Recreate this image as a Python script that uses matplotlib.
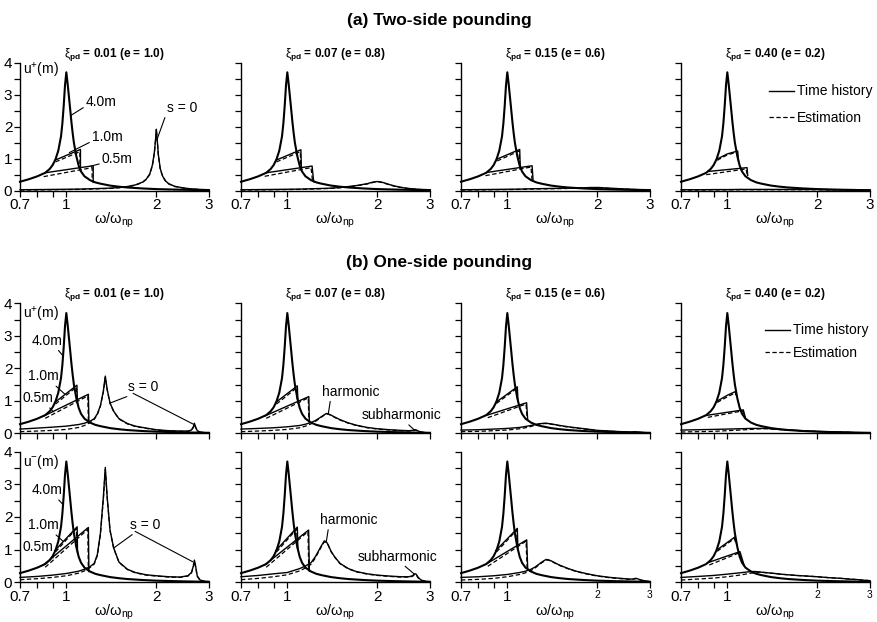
import matplotlib
matplotlib.use("Agg")
import matplotlib.pyplot as plt
from matplotlib.lines import Line2D
from matplotlib.ticker import FixedLocator, FixedFormatter, NullFormatter

plt.rcParams["font.family"] = ["Liberation Sans", "DejaVu Sans"]
plt.rcParams["mathtext.fontset"] = "custom"
plt.rcParams["mathtext.rm"] = "Liberation Sans"
plt.rcParams["mathtext.it"] = "Liberation Sans"
plt.rcParams["mathtext.bf"] = "Liberation Sans:bold"

# ---------------------------------------------------------------- data
damping = ["0.01", "0.07", "0.15", "0.40"]
restitution = ["1.0", "0.8", "0.6", "0.2"]

x_ticks = [0.7, 1, 2, 3]
x_tick_labels = ["0.7", "1", "2", "3"]
x_minor = [0.8, 0.9]
y_ticks = [0, 1, 2, 3, 4]
y_minor = [0.5, 1.5, 2.5, 3.5]

# response without pounding (gap s = 4.0 m)
w_free = [0.70, 0.75, 0.80, 0.85, 0.88, 0.90, 0.92, 0.94, 0.96, 0.97, 0.98, 0.99,
          1.00, 1.01, 1.02, 1.03, 1.04, 1.05, 1.06, 1.08, 1.10, 1.12, 1.15, 1.20,
          1.25, 1.30, 1.40, 1.50, 1.60, 1.80, 2.00, 2.30, 2.60, 3.00]
u_free = [0.28, 0.36, 0.45, 0.56, 0.68, 0.80, 0.98, 1.25, 1.70, 2.10, 2.65, 3.30,
          3.70, 3.35, 2.95, 2.55, 2.15, 1.80, 1.50, 1.08, 0.78, 0.60, 0.45, 0.33,
          0.26, 0.22, 0.16, 0.125, 0.10, 0.07, 0.05, 0.035, 0.025, 0.015]

# ---- (a) two-side pounding, u+
two_s10_th = [([0.915, 1.115, 1.115], [0.95, 1.29, 0.62]),
              ([0.915, 1.11, 1.115], [0.95, 1.28, 0.64]),
              ([0.92, 1.10, 1.105], [0.98, 1.29, 0.70]),
              ([0.92, 1.00, 1.083, 1.09], [0.98, 1.15, 1.24, 0.93])]
two_s10_est = [([0.92, 1.11, 1.11], [0.90, 1.22, 0.66]),
               ([0.92, 1.105, 1.11], [0.90, 1.22, 0.68]),
               ([0.925, 1.095, 1.10], [0.93, 1.24, 0.74]),
               ([0.925, 1.00, 1.075, 1.085], [0.95, 1.12, 1.20, 0.98])]
two_s05_th = [([0.85, 1.23, 1.23], [0.56, 0.78, 0.26]),
              ([0.85, 1.21, 1.225], [0.56, 0.77, 0.28]),
              ([0.855, 1.21, 1.22], [0.57, 0.78, 0.30]),
              ([0.86, 1.164, 1.17], [0.60, 0.72, 0.48])]
two_s05_est = [([0.84, 1.22, 1.22], [0.44, 0.72, 0.27]),
               ([0.84, 1.20, 1.215], [0.45, 0.72, 0.29]),
               ([0.845, 1.20, 1.21], [0.47, 0.74, 0.31]),
               ([0.85, 1.155, 1.165], [0.50, 0.68, 0.50])]
two_s0_w = [0.70, 0.80, 0.90, 1.00, 1.10, 1.20, 1.30, 1.40, 1.50, 1.60, 1.70, 1.80,
            1.85, 1.90, 1.94, 1.97, 1.99, 2.00, 2.01, 2.03, 2.06, 2.10, 2.15, 2.20,
            2.30, 2.45, 2.60, 2.80, 3.00]
two_s0_th = [
    [0.03, 0.035, 0.04, 0.045, 0.05, 0.06, 0.07, 0.08, 0.10, 0.13, 0.18, 0.27,
     0.36, 0.52, 0.80, 1.20, 1.65, 1.92, 1.70, 1.15, 0.70, 0.45, 0.30, 0.22,
     0.14, 0.09, 0.06, 0.04, 0.03],
    [0.03, 0.035, 0.04, 0.045, 0.05, 0.06, 0.07, 0.08, 0.10, 0.13, 0.16, 0.20,
     0.22, 0.25, 0.27, 0.28, 0.285, 0.285, 0.285, 0.28, 0.27, 0.25, 0.22, 0.19,
     0.14, 0.09, 0.06, 0.04, 0.03],
    [0.03, 0.035, 0.04, 0.045, 0.05, 0.06, 0.065, 0.07, 0.075, 0.08, 0.085, 0.09,
     0.095, 0.10, 0.10, 0.10, 0.10, 0.10, 0.10, 0.10, 0.095, 0.09, 0.085, 0.08,
     0.07, 0.055, 0.045, 0.035, 0.03],
    [0.03, 0.03, 0.035, 0.035, 0.04, 0.04, 0.04, 0.04, 0.04, 0.04, 0.04, 0.04,
     0.04, 0.04, 0.04, 0.04, 0.04, 0.04, 0.04, 0.04, 0.035, 0.035, 0.035, 0.03,
     0.03, 0.025, 0.02, 0.02, 0.015]]
two_s0_est = [
    [0.02, 0.025, 0.03, 0.035, 0.04, 0.05, 0.06, 0.07, 0.09, 0.12, 0.17, 0.26,
     0.35, 0.50, 0.78, 1.18, 1.62, 1.88, 1.68, 1.13, 0.68, 0.44, 0.29, 0.21,
     0.13, 0.085, 0.055, 0.035, 0.025],
    [0.02, 0.025, 0.03, 0.035, 0.04, 0.05, 0.06, 0.07, 0.09, 0.12, 0.15, 0.19,
     0.21, 0.24, 0.26, 0.27, 0.275, 0.28, 0.28, 0.275, 0.26, 0.24, 0.21, 0.18,
     0.13, 0.085, 0.055, 0.035, 0.025],
    [0.02, 0.025, 0.03, 0.035, 0.04, 0.05, 0.055, 0.06, 0.065, 0.07, 0.075, 0.08,
     0.085, 0.09, 0.09, 0.09, 0.09, 0.09, 0.09, 0.09, 0.085, 0.08, 0.075, 0.07,
     0.06, 0.05, 0.04, 0.03, 0.025],
    [0.02, 0.02, 0.025, 0.025, 0.03, 0.03, 0.03, 0.03, 0.03, 0.03, 0.03, 0.03,
     0.03, 0.03, 0.03, 0.03, 0.03, 0.03, 0.03, 0.03, 0.03, 0.03, 0.025, 0.025,
     0.025, 0.02, 0.02, 0.015, 0.01]]

# ---- (b) one-side pounding, u+
one_s10_th = [([0.915, 1.085, 1.09], [0.95, 1.48, 0.92]),
              ([0.915, 1.08, 1.085], [0.95, 1.46, 0.98]),
              ([0.915, 1.08, 1.085], [0.95, 1.43, 1.00]),
              ([0.92, 1.00, 1.061, 1.075], [0.98, 1.17, 1.28, 1.15])]
one_s10_est = [([0.92, 1.08, 1.085], [0.90, 1.42, 0.98]),
               ([0.92, 1.075, 1.08], [0.90, 1.40, 1.04]),
               ([0.92, 1.075, 1.08], [0.92, 1.38, 1.06]),
               ([0.925, 1.00, 1.055, 1.07], [0.95, 1.12, 1.23, 1.18])]
one_s05_th = [([0.84, 1.185, 1.19], [0.53, 1.20, 0.33]),
              ([0.84, 1.18, 1.185], [0.53, 1.13, 0.34]),
              ([0.85, 1.16, 1.17], [0.55, 0.94, 0.40]),
              ([0.85, 1.131, 1.15], [0.55, 0.72, 0.47])]
one_s05_est = [([0.85, 1.18, 1.185], [0.46, 1.15, 0.34]),
               ([0.85, 1.175, 1.18], [0.46, 1.09, 0.35]),
               ([0.86, 1.155, 1.165], [0.48, 0.90, 0.42]),
               ([0.86, 1.125, 1.145], [0.49, 0.69, 0.49])]
one_s0_w = [0.70, 0.80, 0.90, 1.00, 1.10, 1.15, 1.20, 1.24, 1.27, 1.30, 1.33, 1.35,
            1.37, 1.40, 1.44, 1.50, 1.60, 1.70, 1.85, 2.00, 2.20, 2.40, 2.55, 2.62,
            2.66, 2.68, 2.70, 2.74, 2.80, 2.90, 3.00]
one_s0_th = [
    [0.13, 0.16, 0.19, 0.22, 0.27, 0.31, 0.37, 0.45, 0.60, 0.85, 1.30, 1.76,
     1.35, 0.93, 0.68, 0.45, 0.30, 0.22, 0.16, 0.11, 0.08, 0.07, 0.07, 0.10,
     0.20, 0.31, 0.22, 0.08, 0.04, 0.02, 0.01],
    [0.13, 0.15, 0.17, 0.20, 0.24, 0.28, 0.33, 0.39, 0.45, 0.51, 0.57, 0.61,
     0.60, 0.56, 0.50, 0.42, 0.32, 0.25, 0.18, 0.14, 0.11, 0.09, 0.08, 0.09,
     0.10, 0.11, 0.10, 0.07, 0.04, 0.02, 0.01],
    [0.10, 0.11, 0.13, 0.15, 0.18, 0.21, 0.24, 0.27, 0.29, 0.30, 0.31, 0.31,
     0.30, 0.29, 0.27, 0.24, 0.20, 0.17, 0.13, 0.09, 0.07, 0.05, 0.04, 0.04,
     0.045, 0.05, 0.045, 0.04, 0.03, 0.02, 0.01],
    [0.10, 0.11, 0.12, 0.13, 0.14, 0.145, 0.15, 0.15, 0.15, 0.15, 0.15, 0.15,
     0.145, 0.14, 0.13, 0.12, 0.10, 0.09, 0.07, 0.06, 0.045, 0.035, 0.03, 0.025,
     0.02, 0.02, 0.02, 0.02, 0.015, 0.01, 0.01]]
one_s0_est = [
    [0.05, 0.07, 0.09, 0.12, 0.18, 0.24, 0.33, 0.43, 0.58, 0.83, 1.27, 1.72,
     1.33, 0.92, 0.67, 0.44, 0.29, 0.21, 0.15, 0.10, 0.07, 0.06, 0.06, 0.09,
     0.18, 0.28, 0.20, 0.07, 0.03, 0.015, 0.01],
    [0.05, 0.07, 0.09, 0.12, 0.17, 0.22, 0.29, 0.36, 0.43, 0.50, 0.56, 0.60,
     0.59, 0.55, 0.49, 0.41, 0.31, 0.24, 0.17, 0.13, 0.10, 0.08, 0.07, 0.08,
     0.09, 0.10, 0.09, 0.06, 0.035, 0.02, 0.01],
    [0.05, 0.06, 0.08, 0.10, 0.14, 0.17, 0.21, 0.25, 0.28, 0.29, 0.30, 0.30,
     0.29, 0.28, 0.26, 0.23, 0.19, 0.16, 0.12, 0.085, 0.065, 0.045, 0.035, 0.035,
     0.04, 0.045, 0.04, 0.035, 0.025, 0.015, 0.01],
    [0.04, 0.05, 0.06, 0.08, 0.10, 0.11, 0.12, 0.13, 0.135, 0.14, 0.14, 0.14,
     0.14, 0.135, 0.125, 0.115, 0.10, 0.085, 0.07, 0.055, 0.045, 0.035, 0.03, 0.025,
     0.02, 0.02, 0.02, 0.02, 0.015, 0.01, 0.01]]

# ---- (b) one-side pounding, u-
neg_s10_th = [([0.915, 1.087, 1.09], [0.97, 1.70, 0.92]),
              ([0.915, 1.08, 1.085], [0.97, 1.69, 0.98]),
              ([0.915, 1.08, 1.085], [0.97, 1.65, 1.00]),
              ([0.92, 1.00, 1.061, 1.075], [0.98, 1.22, 1.39, 1.15])]
neg_s10_est = [([0.92, 1.08, 1.085], [0.93, 1.64, 0.98]),
               ([0.92, 1.075, 1.08], [0.93, 1.63, 1.04]),
               ([0.92, 1.075, 1.08], [0.93, 1.60, 1.06]),
               ([0.925, 1.00, 1.055, 1.07], [0.95, 1.18, 1.34, 1.18])]
neg_s05_th = [([0.838, 1.185, 1.19], [0.53, 1.68, 0.33]),
              ([0.84, 1.178, 1.185], [0.53, 1.60, 0.34]),
              ([0.85, 1.161, 1.17], [0.56, 1.30, 0.40]),
              ([0.86, 1.102, 1.14], [0.60, 0.94, 0.50])]
neg_s05_est = [([0.85, 1.18, 1.185], [0.46, 1.62, 0.34]),
               ([0.85, 1.172, 1.18], [0.46, 1.55, 0.35]),
               ([0.86, 1.155, 1.165], [0.49, 1.26, 0.42]),
               ([0.87, 1.095, 1.135], [0.53, 0.90, 0.52])]
neg_s0_th = [
    [0.15, 0.18, 0.22, 0.27, 0.34, 0.40, 0.48, 0.58, 0.85, 1.50, 2.60, 3.52,
     2.60, 1.60, 1.05, 0.62, 0.40, 0.30, 0.23, 0.20, 0.17, 0.16, 0.20, 0.30,
     0.50, 0.68, 0.55, 0.20, 0.07, 0.03, 0.02],
    [0.17, 0.21, 0.26, 0.30, 0.42, 0.50, 0.60, 0.78, 0.95, 1.12, 1.27, 1.24,
     1.15, 0.95, 0.78, 0.58, 0.42, 0.33, 0.26, 0.22, 0.19, 0.17, 0.17, 0.20,
     0.25, 0.26, 0.24, 0.15, 0.07, 0.03, 0.02],
    [0.15, 0.17, 0.20, 0.24, 0.30, 0.34, 0.40, 0.47, 0.54, 0.61, 0.67, 0.70,
     0.69, 0.66, 0.60, 0.52, 0.42, 0.34, 0.26, 0.20, 0.15, 0.12, 0.10, 0.10,
     0.11, 0.12, 0.12, 0.10, 0.07, 0.04, 0.02],
    [0.15, 0.18, 0.21, 0.25, 0.29, 0.31, 0.33, 0.33, 0.32, 0.31, 0.30, 0.29,
     0.29, 0.28, 0.27, 0.25, 0.23, 0.21, 0.19, 0.17, 0.14, 0.12, 0.10, 0.09,
     0.09, 0.085, 0.085, 0.08, 0.07, 0.06, 0.05]]
neg_s0_est = [
    [0.08, 0.11, 0.15, 0.20, 0.28, 0.35, 0.45, 0.56, 0.82, 1.45, 2.55, 3.45,
     2.58, 1.58, 1.04, 0.61, 0.39, 0.29, 0.22, 0.19, 0.16, 0.15, 0.19, 0.28,
     0.47, 0.64, 0.52, 0.18, 0.06, 0.025, 0.015],
    [0.08, 0.12, 0.17, 0.23, 0.35, 0.44, 0.55, 0.74, 0.92, 1.09, 1.24, 1.22,
     1.13, 0.94, 0.77, 0.57, 0.41, 0.32, 0.25, 0.21, 0.18, 0.16, 0.16, 0.18,
     0.23, 0.24, 0.22, 0.13, 0.06, 0.025, 0.015],
    [0.07, 0.09, 0.12, 0.17, 0.24, 0.29, 0.36, 0.44, 0.52, 0.59, 0.65, 0.68,
     0.68, 0.65, 0.59, 0.51, 0.41, 0.33, 0.25, 0.19, 0.14, 0.11, 0.09, 0.09,
     0.10, 0.11, 0.11, 0.09, 0.06, 0.035, 0.02],
    [0.07, 0.10, 0.13, 0.17, 0.22, 0.25, 0.28, 0.30, 0.31, 0.31, 0.30, 0.30,
     0.29, 0.28, 0.27, 0.25, 0.23, 0.21, 0.19, 0.17, 0.14, 0.12, 0.10, 0.09,
     0.09, 0.085, 0.085, 0.08, 0.07, 0.06, 0.05]]

# ---------------------------------------------------------------- layout
W, H = 878, 622
fig = plt.figure(figsize=(W / 100, H / 100), dpi=100)

col_left_px = [20, 241, 461, 681]
ax_w_px = 189
row_px = [(62.7, 190.7), (303.3, 433.3), (451.7, 582.3)]   # (top, bottom)

LW_FREE = 1.5
LW_TH = 1.0
LW_EST = 0.9
DASH = (0, (3.5, 2.0))
TICK = 11
TXT = 9.5


def make_axes(r, c):
    top, bot = row_px[r]
    rect = [col_left_px[c] / W, 1 - bot / H, ax_w_px / W, (bot - top) / H]
    ax = fig.add_axes(rect)
    ax.set_xscale("log")
    ax.set_xlim(0.7, 3.0)
    ax.set_ylim(0, 4)
    for side in ("top", "right"):
        ax.spines[side].set_visible(False)
    for side in ("left", "bottom"):
        ax.spines[side].set_linewidth(1.0)
    ax.xaxis.set_major_locator(FixedLocator(x_ticks))
    ax.xaxis.set_minor_locator(FixedLocator(x_minor))
    ax.xaxis.set_minor_formatter(NullFormatter())
    ax.yaxis.set_major_locator(FixedLocator(y_ticks))
    ax.yaxis.set_minor_locator(FixedLocator(y_minor))
    ax.tick_params(which="both", direction="out", width=0.9, labelsize=TICK,
                   length=4, pad=1.5)
    if r == 1:
        ax.xaxis.set_major_formatter(NullFormatter())
    else:
        ax.xaxis.set_major_formatter(FixedFormatter(x_tick_labels))
        ax.set_xlabel("ω/ω$_{\\mathrm{np}}$", fontsize=10.5, labelpad=-1)
    if c == 0:
        ax.yaxis.set_major_formatter(FixedFormatter([str(v) for v in y_ticks]))
    else:
        ax.yaxis.set_major_formatter(NullFormatter())
    return ax


def draw_panel(ax, s10_th, s10_est, s05_th, s05_est, s0_w, s0_th, s0_est):
    ax.plot(s0_w, s0_est, color="black", lw=LW_EST, ls=DASH, clip_on=False)
    ax.plot(s0_w, s0_th, color="black", lw=LW_TH, clip_on=False)
    ax.plot(w_free, u_free, color="black", lw=LW_FREE, clip_on=False,
            solid_joinstyle="round")
    for seg in (s10_est, s05_est):
        ax.plot(seg[0], seg[1], color="black", lw=LW_EST, ls=DASH)
    for seg in (s10_th, s05_th):
        ax.plot(seg[0], seg[1], color="black", lw=LW_TH)


def title_text(c):
    return ("$\\xi_{\\mathbf{pd}}$ = " + damping[c] + " (e = " + restitution[c] + ")")


LEADER = dict(arrowstyle="-", lw=0.8, color="black", shrinkA=0, shrinkB=0)

axes = {}
rows = [
    (two_s10_th, two_s10_est, two_s05_th, two_s05_est, two_s0_w, two_s0_th, two_s0_est),
    (one_s10_th, one_s10_est, one_s05_th, one_s05_est, one_s0_w, one_s0_th, one_s0_est),
    (neg_s10_th, neg_s10_est, neg_s05_th, neg_s05_est, one_s0_w, neg_s0_th, neg_s0_est),
]
for r, data in enumerate(rows):
    s10_th, s10_est, s05_th, s05_est, s0_w, s0_th, s0_est = data
    for c in range(4):
        ax = make_axes(r, c)
        axes[r, c] = ax
        draw_panel(ax, s10_th[c], s10_est[c], s05_th[c], s05_est[c],
                   s0_w, s0_th[c], s0_est[c])
        if r in (0, 1):
            ax.set_title(title_text(c), fontsize=8.5, fontweight="bold", pad=2.5)
        if r == 2 and c >= 2:
            for lab in ax.get_xticklabels()[2:]:
                lab.set_fontsize(7.5)

# ---- section headings
fig.text(0.5, 1 - 20 / H, "(a) Two-side pounding", ha="center", va="center",
         fontsize=12.5, fontweight="bold")
fig.text(0.5, 1 - 263 / H, "(b) One-side pounding", ha="center", va="center",
         fontsize=12.5, fontweight="bold")


# ---- curve labels
def label(ax, text, xy, xytext, relpos=(0, 0.5), ha="left"):
    ax.annotate(text, xy=xy, xytext=xytext, fontsize=TXT + 0.5, ha=ha, va="center",
                arrowprops=dict(LEADER, relpos=relpos))


ax = axes[0, 0]
ax.text(0.714, 3.77, "u$^{+}$(m)", fontsize=TXT + 0.5, va="center")
label(ax, "4.0m", (1.035, 2.35), (1.164, 2.78), relpos=(0, 0.2))
label(ax, "1.0m", (1.023, 1.19), (1.219, 1.68), relpos=(0, 0.2))
label(ax, "0.5m", (1.21, 0.77), (1.316, 0.99), relpos=(0, 0.2))
label(ax, "s = 0", (2.01, 1.6), (2.17, 2.59), relpos=(0, 0.2))

for r, sign in ((1, "+"), (2, "-")):
    ax = axes[r, 0]
    ax.text(0.714, 3.67, "u$^{" + sign + "}$(m)", fontsize=TXT + 0.5, va="center")
    dy = 0 if r == 1 else -0.03
    label(ax, "4.0m", (0.975, 2.38), (0.765, 2.85 + dy), relpos=(0.8, 0))
    label(ax, "1.0m", (0.99, 1.2) if r == 1 else (0.977, 1.25),
          (0.747, 1.75), relpos=(0.8, 0))
    label(ax, "0.5m", (0.905, 0.66) if r == 1 else (0.905, 0.75),
          (0.714, 1.08), relpos=(0.8, 0))
    if r == 1:
        txt_xy, p1, p2 = (1.608, 1.43), (1.40, 0.93), (2.66, 0.28)
    else:
        txt_xy, p1, p2 = (1.633, 1.76), (1.44, 1.05), (2.646, 0.63)
    label(ax, "s = 0", p1, txt_xy, relpos=(0.2, 0))
    ax.annotate("", xy=p2, xytext=(txt_xy[0] * 1.04, txt_xy[1] - 0.2),
                arrowprops=LEADER)

    ax = axes[r, 1]
    if r == 1:
        label(ax, "harmonic", (1.37, 0.58), (1.306, 1.28), relpos=(0.15, 0))
        label(ax, "subharmonic", (2.66, 0.1), (1.777, 0.56), relpos=(0.55, 0))
    else:
        label(ax, "harmonic", (1.35, 1.24), (1.286, 1.91), relpos=(0.15, 0))
        label(ax, "subharmonic", (2.66, 0.25), (1.723, 0.79), relpos=(0.55, 0))

# ---- legends
handles = [Line2D([], [], color="black", lw=LW_TH),
           Line2D([], [], color="black", lw=LW_EST, ls=DASH)]
names = ["Time history", "Estimation"]
for r, anchor, spacing in ((0, (0.466, 0.83), 0.9), (1, (0.444, 0.845), 0.6)):
    axes[r, 3].legend(handles, names, loc="upper left", bbox_to_anchor=anchor,
                      frameon=False, fontsize=TXT + 0.5, handlelength=1.8,
                      handletextpad=0.2, labelspacing=spacing, borderpad=0,
                      borderaxespad=0)

fig.savefig("out.png", dpi=100)
